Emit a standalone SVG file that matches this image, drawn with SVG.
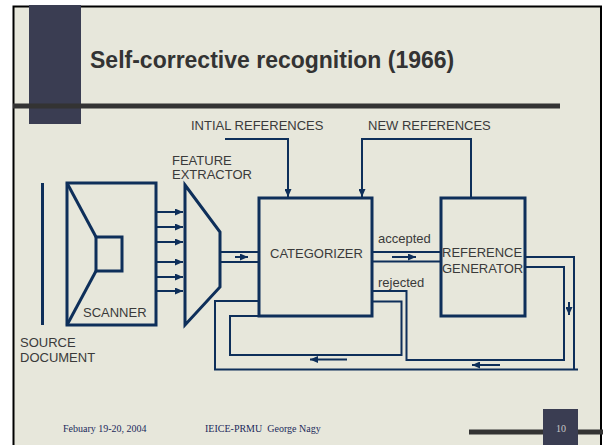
<svg xmlns="http://www.w3.org/2000/svg" width="607" height="445" viewBox="0 0 607 445">
<style>
.t{font-family:"Liberation Sans",Arial,sans-serif;font-size:13px;fill:#3a3a3a}
.box{fill:none;stroke:#0e2f5a;stroke-width:3}
.ln{fill:none;stroke:#0e2f5a;stroke-width:2}
.ft{font-family:"Liberation Serif","Times New Roman",serif;font-size:10px;fill:#1c2a5c}
</style>
<defs>
<marker id="ah" markerWidth="8" markerHeight="7" refX="8" refY="3.5" orient="auto" markerUnits="userSpaceOnUse"><path d="M0,0 L8,3.5 L0,7 z" fill="#0e2f5a"/></marker>
</defs>
<rect x="0" y="0" width="607" height="445" fill="#ffffff"/>
<rect x="13" y="6" width="588" height="440" fill="#e7e7db"/>
<path d="M13.5,445 V6.5 H601 V445" fill="none" stroke="#000" stroke-width="2"/>
<rect x="29" y="5" width="52" height="119" fill="#3a3d52"/>
<line x1="13" y1="106" x2="560" y2="106" stroke="#333" stroke-width="5"/>
<text x="90" y="68" font-family="Liberation Sans,Arial,sans-serif" font-size="23" font-weight="bold" fill="#333">Self-corrective recognition (1966)</text>
<g id="source">
<line x1="42.5" y1="183" x2="42.5" y2="325" stroke="#0e2f5a" stroke-width="3"/>
<text class="t" x="20" y="347">SOURCE</text>
<text class="t" x="20" y="362">DOCUMENT</text>
</g>
<g id="scanner">
<rect class="box" x="67" y="183" width="89" height="142"/>
<rect class="box" x="96" y="237" width="26" height="34"/>
<line class="box" x1="67" y1="183" x2="96" y2="237"/>
<line class="box" x1="67" y1="325" x2="96" y2="271"/>
<text class="t" x="83" y="317">SCANNER</text>
</g>
<g id="feature-extractor">
<polygon class="box" points="185,185 220,232 220,287 185,325"/>
<text class="t" x="172" y="165">FEATURE</text>
<text class="t" x="172" y="179">EXTRACTOR</text>
</g>
<g id="categorizer">
<rect class="box" x="259" y="198" width="113" height="118"/>
<text class="t" x="270" y="258">CATEGORIZER</text>
</g>
<g id="reference-generator">
<rect class="box" x="441" y="198" width="84" height="118"/>
<text class="t" x="442" y="257">REFERENCE</text>
<text class="t" x="442" y="273">GENERATOR</text>
</g>
<g id="labels">
<text class="t" x="191" y="130">INTIAL REFERENCES</text>
<text class="t" x="368" y="130">NEW REFERENCES</text>
<text class="t" x="378" y="243">accepted</text>
<text class="t" x="378" y="287">rejected</text>
</g>
<g id="connectors">
<line class="ln" x1="156" y1="212" x2="183" y2="212" marker-end="url(#ah)"/>
<line class="ln" x1="156" y1="227" x2="183" y2="227" marker-end="url(#ah)"/>
<line class="ln" x1="156" y1="242" x2="183" y2="242" marker-end="url(#ah)"/>
<line class="ln" x1="156" y1="262" x2="183" y2="262" marker-end="url(#ah)"/>
<line class="ln" x1="156" y1="277" x2="183" y2="277" marker-end="url(#ah)"/>
<line class="ln" x1="156" y1="291" x2="183" y2="291" marker-end="url(#ah)"/>
<line class="ln" x1="220" y1="252" x2="259" y2="252"/>
<line class="ln" x1="220" y1="262" x2="259" y2="262"/>
<line class="ln" x1="235" y1="257" x2="248" y2="257" marker-end="url(#ah)"/>
<line class="ln" x1="372" y1="252" x2="441" y2="252"/>
<line class="ln" x1="372" y1="261.5" x2="441" y2="261.5"/>
<line class="ln" x1="392" y1="257" x2="416" y2="257" marker-end="url(#ah)"/>
<path class="ln" d="M225,139 H288 V197" marker-end="url(#ah)"/>
<path class="ln" d="M471,198 V139 H362 V197" marker-end="url(#ah)"/>
<path class="ln" d="M525,257 H574 V369.5"/>
<path class="ln" d="M578,369.5 H215 V301 H259"/>
<path class="ln" d="M525,267 H564 V360 H406.5 V291 H372"/>
<path class="ln" d="M372,301.5 H401.5 V355 H230 V316 H259"/>
<line class="ln" x1="569" y1="302" x2="569" y2="315" marker-end="url(#ah)"/>
<line class="ln" x1="500" y1="365" x2="472" y2="365" marker-end="url(#ah)"/>
<line class="ln" x1="347" y1="359.5" x2="310" y2="359.5" marker-end="url(#ah)"/>
</g>
<g id="footer">
<text class="ft" x="63" y="432">Febuary 19-20, 2004</text>
<text class="ft" x="205" y="432" xml:space="preserve">IEICE-PRMU  George Nagy</text>
<line x1="469" y1="432" x2="603" y2="432" stroke="#333" stroke-width="5"/>
<rect x="543" y="409" width="35" height="36" fill="#3a3d52"/>
<text x="561" y="432" text-anchor="middle" font-family="Liberation Serif,serif" font-size="10" fill="#c8c8c8">10</text>
</g>
</svg>
